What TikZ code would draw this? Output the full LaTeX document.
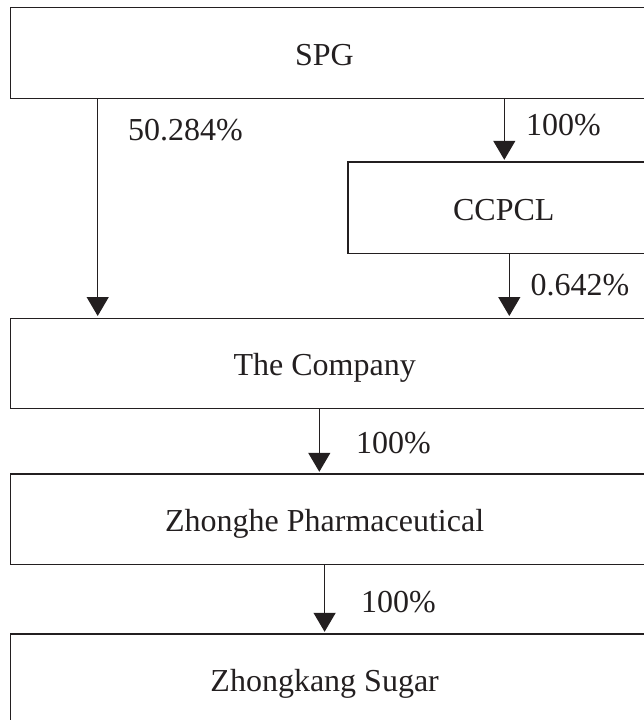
\documentclass[tikz,border=0pt]{standalone}
\usepackage{fontspec}
\setmainfont{Liberation Serif}
\usetikzlibrary{arrows.meta}
\definecolor{ink}{HTML}{231F20}
\newcommand{\lft}[1]{\hspace*{-7pt}#1}
\begin{document}
\begin{tikzpicture}[x=1pt,y=1pt,
  box/.style={draw=ink, line width=1.3pt, rectangle, anchor=north west, inner sep=0pt,
    text height=25pt, text depth=0pt, font=\fontsize{32}{38}\selectfont, text=ink},
  pct/.style={anchor=base west, inner sep=0pt, font=\fontsize{32}{38}\selectfont, text=ink},
  link/.style={draw=ink, line width=1.3pt, -{Triangle[width=22pt,length=19pt]}, shorten >=1.5pt}]
\useasboundingbox (0,0) rectangle (643,-720);
\node[box, minimum width=635.5pt, minimum height=90.5pt] (spg) at (9.5,-7) {\lft{SPG}};
\node[box, minimum width=311.7pt, minimum height=91.2pt] (ccpcl) at (347.3,-161.3) {CCPCL};
\node[box, minimum width=635pt, minimum height=90.5pt] (comp) at (10,-317.5) {\lft{The Company}};
\node[box, minimum width=635pt, minimum height=90.2pt] (zh) at (10,-473.3) {\lft{Zhonghe Pharmaceutical}};
\node[box, minimum width=635pt, minimum height=90.5pt] (zk) at (10,-633.3) {\lft{Zhongkang Sugar}};
\coordinate (xa) at (97.7,0);
\coordinate (xb) at (504.3,0);
\coordinate (xc) at (509.3,0);
\coordinate (xd) at (319.3,0);
\coordinate (xe) at (324.6,0);
\draw[link] (spg.south -| xa) -- (comp.north -| xa);
\draw[link] (spg.south -| xb) -- (ccpcl.north -| xb);
\draw[link] (ccpcl.south -| xc) -- (comp.north -| xc);
\draw[link] (comp.south -| xd) -- (zh.north -| xd);
\draw[link] (zh.south -| xe) -- (zk.north -| xe);
\node[pct] (p1) at (128,-140.7) {50.284\%};
\node[pct] (p2) at (526,-135) {100\%};
\node[pct] (p3) at (530.5,-295.7) {0.642\%};
\node[pct] (p4) at (356,-453) {100\%};
\node[pct] (p5) at (361,-612) {100\%};
\end{tikzpicture}
\end{document}
